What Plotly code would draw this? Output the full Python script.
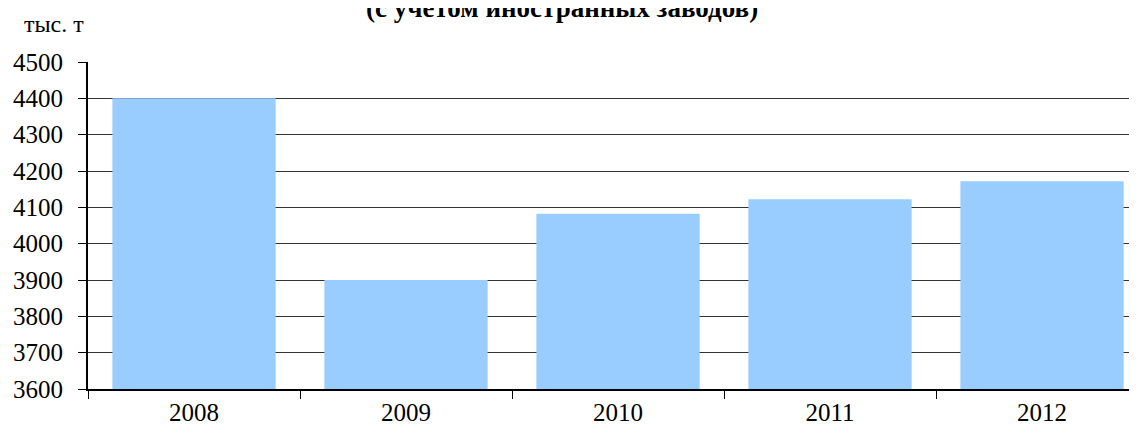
import plotly.graph_objects as go

years = ["2008", "2009", "2010", "2011", "2012"]
output_kt = [4400, 3900, 4082, 4122, 4172]

y_ticks = [3600, 3700, 3800, 3900, 4000, 4100, 4200, 4300, 4400, 4500]

SERIF = "Liberation Serif, Times New Roman, serif"

fig = go.Figure()
fig.add_trace(go.Bar(
    x=years,
    y=output_kt,
    marker=dict(color="#99CCFF", line=dict(width=0)),
    showlegend=False,
))

# the page adds an 8px body margin, so the figure is sized a bit smaller
fig.update_layout(
    width=1129,
    height=422,
    margin=dict(l=80, r=0, t=54, b=41),
    paper_bgcolor="white",
    plot_bgcolor="white",
    bargap=0.23,
    font=dict(family=SERIF, color="black"),
    xaxis=dict(
        type="category",
        range=[-0.5, 4.448],
        showline=True,
        linecolor="black",
        linewidth=2,
        ticks="outside",
        tickson="boundaries",
        ticklen=8,
        tickcolor="black",
        tickfont=dict(family=SERIF, size=25, color="black"),
        showgrid=False,
    ),
    yaxis=dict(
        range=[3600, 4500],
        tickvals=y_ticks,
        showline=True,
        linecolor="black",
        linewidth=2,
        ticks="outside",
        ticklen=8,
        tickcolor="black",
        tickfont=dict(family=SERIF, size=25, color="black"),
        ticklabelstandoff=10,
        showgrid=True,
        gridcolor="#333333",
        gridwidth=1,
        zeroline=False,
    ),
)

fig.add_annotation(
    text="<b>(с учетом иностранных заводов)</b>",
    xref="paper", yref="paper",
    x=0.452, y=1.165,
    xanchor="center", yanchor="middle",
    showarrow=False,
    font=dict(family=SERIF, size=27, color="black"),
)
fig.add_annotation(
    text="тыс. т",
    xref="paper", yref="paper",
    x=-0.063, y=1.116,
    xanchor="left", yanchor="middle",
    showarrow=False,
    font=dict(family=SERIF, size=24, color="black"),
)

fig.write_html("out.html")
